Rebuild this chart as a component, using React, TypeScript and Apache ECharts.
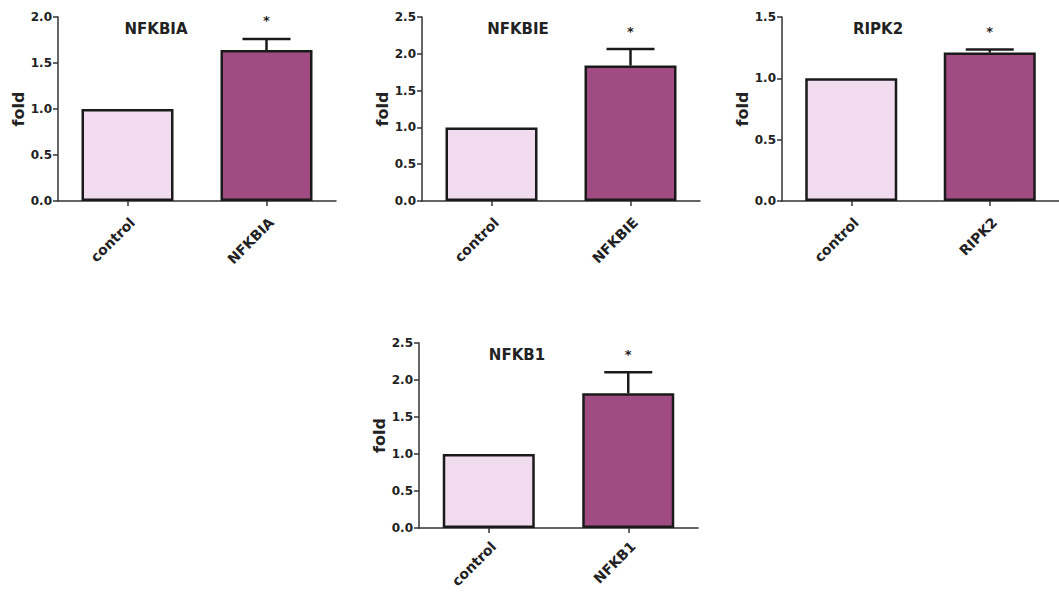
import React, { useEffect, useRef } from "react";
import * as echarts from "echarts";

// ---- data ----
const panelTitles = ["NFKBIA", "NFKBIE", "RIPK2", "NFKB1"];
const controlLabel = "control";
const treatedLabels = ["NFKBIA", "NFKBIE", "RIPK2", "NFKB1"];
const controlValues = [1.0, 1.0, 1.0, 1.0];
const treatedValues = [1.64, 1.84, 1.21, 1.82];
const treatedErrors = [0.12, 0.225, 0.025, 0.285];
const starLevels = [2.0, 2.35, 1.41, 2.39];
const yMaxima = [2.0, 2.5, 1.5, 2.5];
const yInterval = 0.5;
const yAxisName = "fold";
const starText = "*";

// ---- layout / style ----
const grids = [
  { left: 58, top: 17, width: 278, height: 184 },
  { left: 422, top: 17, width: 278, height: 184 },
  { left: 782, top: 17, width: 277, height: 184 },
  { left: 419, top: 343, width: 279, height: 185 },
];
const labelMargins = [14, 14, 14, 11];
const titlePos = [
  [156, 29],
  [518, 29],
  [878, 29],
  [517, 355],
];
const FONT = "DejaVu Sans";
const INK = "#222";
const AXIS = "#333";
const LIGHT = "#f0dcee";
const DARK = "#a04c82";

export default function App() {
  const ref = useRef<HTMLDivElement>(null);
  useEffect(() => {
    if (!ref.current) return;
    const chart = echarts.init(ref.current, null, { renderer: "svg" });

    const xAxis: any[] = [];
    const yAxis: any[] = [];
    const series: any[] = [];
    const graphic: any[] = [];

    panelTitles.forEach((t, i) => {
      xAxis.push({
        gridIndex: i,
        type: "category",
        data: [controlLabel, treatedLabels[i]],
        axisLine: { show: true, lineStyle: { color: AXIS, width: 1.5 } },
        axisTick: { show: true, alignWithLabel: true, length: 5, lineStyle: { color: AXIS, width: 1.5 } },
        axisLabel: {
          interval: 0,
          rotate: 45,
          margin: labelMargins[i],
          verticalAlign: "top",
          fontFamily: FONT,
          fontWeight: "bold",
          fontSize: 14,
          color: INK,
        },
        splitLine: { show: false },
      });
      yAxis.push({
        gridIndex: i,
        type: "value",
        min: 0,
        max: yMaxima[i],
        interval: yInterval,
        name: yAxisName,
        nameLocation: "middle",
        nameRotate: 90,
        nameGap: 32,
        nameTextStyle: { fontFamily: FONT, fontWeight: "bold", fontSize: 16, color: INK },
        axisLine: { show: true, lineStyle: { color: AXIS, width: 1.5 } },
        axisTick: { show: true, length: 5, lineStyle: { color: AXIS, width: 1.5 } },
        axisLabel: {
          margin: 6,
          formatter: (v: number) => v.toFixed(1),
          fontFamily: FONT,
          fontWeight: "bold",
          fontSize: 12,
          color: INK,
        },
        splitLine: { show: false },
      });
      series.push({
        type: "bar",
        xAxisIndex: i,
        yAxisIndex: i,
        barWidth: 92,
        data: [
          { value: controlValues[i], itemStyle: { color: LIGHT } },
          { value: treatedValues[i], itemStyle: { color: DARK } },
        ],
        itemStyle: { borderColor: "#1a1a1a", borderWidth: 2.5 },
        z: 2,
      });
      series.push({
        type: "custom",
        xAxisIndex: i,
        yAxisIndex: i,
        z: 3,
        encode: { x: 0, y: 1 },
        data: [[1, treatedValues[i], treatedErrors[i]]],
        renderItem: (params: any, api: any) => {
          const x = api.value(0);
          const v = api.value(1);
          const e = api.value(2);
          const base = api.coord([x, v]);
          const top = api.coord([x, v + e]);
          const half = 24;
          return {
            type: "group",
            children: [
              { type: "line", shape: { x1: base[0], y1: base[1], x2: top[0], y2: top[1] }, style: { stroke: "#1a1a1a", lineWidth: 2.5 } },
              { type: "line", shape: { x1: top[0] - half, y1: top[1], x2: top[0] + half, y2: top[1] }, style: { stroke: "#1a1a1a", lineWidth: 2.5 } },
            ],
          };
        },
      });
      series.push({
        type: "custom",
        xAxisIndex: i,
        yAxisIndex: i,
        z: 3,
        encode: { x: 0, y: 1 },
        data: [[1, starLevels[i]]],
        renderItem: (params: any, api: any) => {
          const p = api.coord([api.value(0), api.value(1)]);
          return {
            type: "text",
            x: p[0],
            y: p[1] + 3,
            style: {
              text: starText,
              align: "center",
              verticalAlign: "middle",
              fontFamily: FONT,
              fontWeight: "bold",
              fontSize: 13,
              fill: INK,
            },
          };
        },
      });
      graphic.push({
        type: "text",
        x: titlePos[i][0],
        y: titlePos[i][1],
        style: {
          text: t,
          align: "center",
          verticalAlign: "middle",
          fontFamily: FONT,
          fontWeight: "bold",
          fontSize: 15,
          fill: INK,
        },
      });
    });

    chart.setOption({
      animation: false,
      backgroundColor: "#ffffff",
      grid: grids.map((g) => ({ ...g, containLabel: false, outerBoundsMode: "none" })),
      xAxis,
      yAxis,
      series,
      graphic,
    });
    return () => chart.dispose();
  }, []);

  return (
    <div
      ref={ref}
      style={{ position: "absolute", left: 0, top: 0, width: 1059, height: 594 }}
    />
  );
}
